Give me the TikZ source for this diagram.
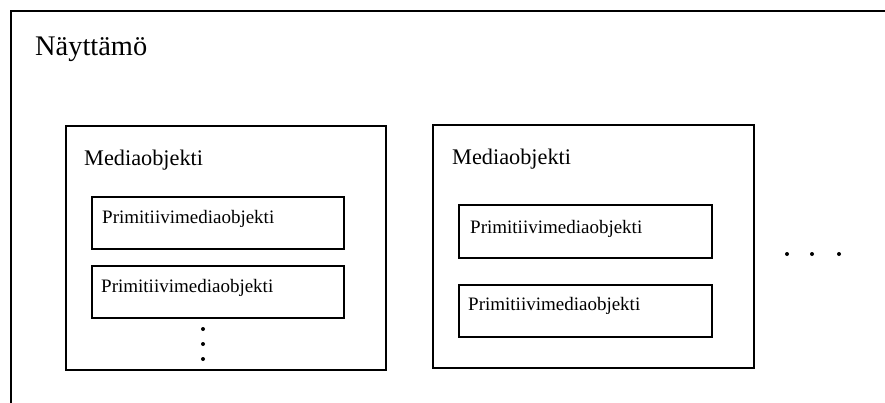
\documentclass[tikz,border=0pt]{standalone}
\usepackage{fontspec}
\setmainfont{Liberation Serif}
\usetikzlibrary{positioning}

\begin{document}
\begin{tikzpicture}[x=1pt, y=-1pt]
\useasboundingbox (0,0) rectangle (885,402);
% stage frame, cut by the page on the right and at the bottom
\coordinate (stagebl) at (11,420);
\coordinate (stagetl) at (11,11);
\coordinate (stagetr) at (900,11);
\draw [line width=1.5pt] (stagebl) -- (stagetl) -- (stagetr);
\node (stagetext) at (35,55) [anchor=base west, inner sep=0pt,
    font=\fontsize{28.4}{30}\selectfont] {Näyttämö};

\begin{scope}[every node/.style={rectangle, draw, line width=1.5pt, anchor=north west, inner sep=0pt}]
    \node (media1) at (65,125) [minimum width=320, minimum height=244] {};
    \node (prim1) at (91,196) [minimum width=252, minimum height=52] {};
    \node (prim2) at (91,265) [minimum width=252, minimum height=52] {};

    \node (media2) at (432,124) [minimum width=321, minimum height=243] {};
    \node (prim3) at (458,204) [minimum width=253, minimum height=53] {};
    \node (prim4) at (458,284) [minimum width=253, minimum height=52] {};
\end{scope}

\begin{scope}[every node/.style={anchor=base west, inner sep=0pt}]
    \node (mtext1) at (84,165) [font=\fontsize{22.3}{24}\selectfont] {Mediaobjekti};
    \node (mtext2) at (452,164) [font=\fontsize{22.3}{24}\selectfont] {Mediaobjekti};

    \node (ptext1) at (102,223) [font=\fontsize{19}{20}\selectfont] {Primitiivimediaobjekti};
    \node (ptext2) at (101,292) [font=\fontsize{19}{20}\selectfont] {Primitiivimediaobjekti};
    \node (ptext3) at (470,233) [font=\fontsize{19}{20}\selectfont] {Primitiivimediaobjekti};
    \node (ptext4) at (468,310) [font=\fontsize{19}{20}\selectfont] {Primitiivimediaobjekti};
\end{scope}

\begin{scope}[every node/.style={circle, fill=black, inner sep=0pt, minimum size=4}]
    \node (vdot1) at (203,329) {};
    \node (vdot2) at (203,344) {};
    \node (vdot3) at (203,359) {};

    \node (hdot1) at (787,254) {};
    \node (hdot2) at (812,254) {};
    \node (hdot3) at (839,254) {};
\end{scope}
\end{tikzpicture}
\end{document}
